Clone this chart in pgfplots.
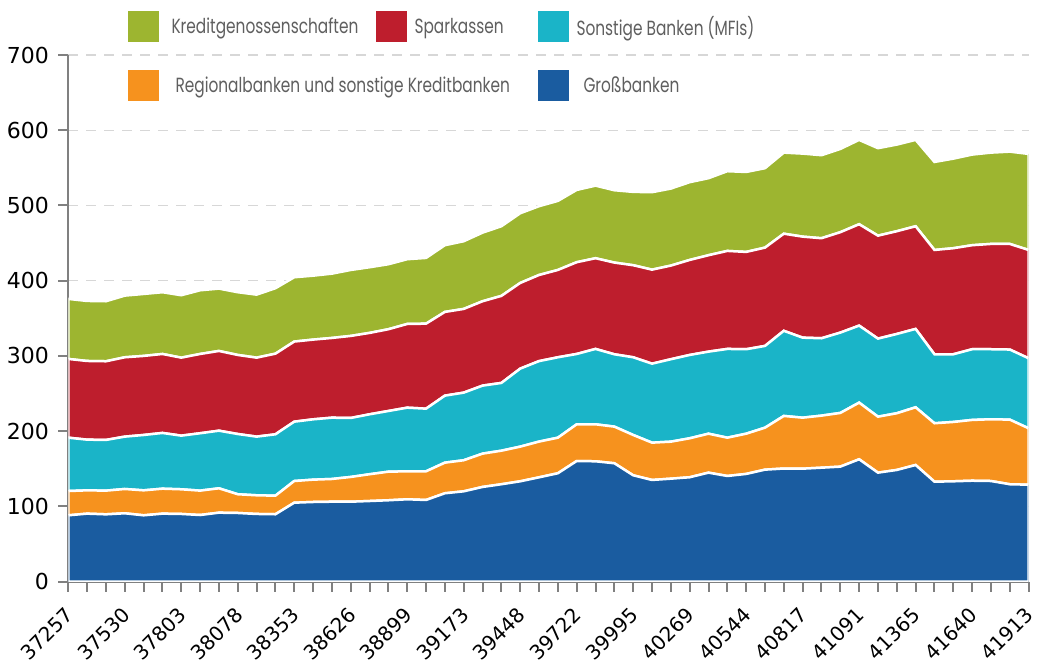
\documentclass[border=0pt]{standalone}
\usepackage{fontspec}
\setmainfont{DejaVu Sans}
\newfontfamily\legfont[FakeStretch=0.75]{Poppins}
\usepackage{pgfplots}
\pgfplotsset{compat=1.18}
\usepackage{pgfplotstable}
\definecolor{cGreen}{RGB}{157,181,48}
\definecolor{cRed}{RGB}{190,30,45}
\definecolor{cCyan}{RGB}{26,180,200}
\definecolor{cOrange}{RGB}{246,146,30}
\definecolor{cBlue}{RGB}{26,92,160}
\definecolor{axgray}{RGB}{128,128,128}
\definecolor{gridgray}{RGB}{215,215,215}
\definecolor{leggray}{RGB}{95,95,95}

\pgfplotstableread{
x gross reg son spk kre
0 88.0 32.3 70.9 104.7 79.8
1 90.2 31.0 67.4 104.6 79.8
2 89.3 31.5 67.4 104.6 79.8
3 90.7 32.3 69.6 105.5 82.0
4 88.0 33.2 73.6 105.1 82.4
5 90.2 33.2 74.1 105.0 82.1
6 89.8 32.8 71.3 103.7 83.0
7 88.4 32.4 76.3 105.4 84.7
8 91.5 32.4 76.6 106.0 82.9
9 91.1 24.9 80.1 105.1 83.4
10 89.8 24.8 78.0 105.0 83.8
11 89.4 24.7 81.6 107.2 87.0
12 104.8 28.8 78.9 106.5 85.5
13 105.7 29.7 80.2 106.0 85.0
14 106.1 30.2 81.5 106.0 85.5
15 106.1 32.9 78.4 109.1 87.7
16 107.0 35.6 79.7 108.2 87.3
17 108.0 38.0 80.7 108.7 86.4
18 109.3 37.2 84.6 111.3 86.1
19 108.4 38.1 83.3 113.0 87.4
20 117.3 40.7 89.1 111.3 88.7
21 119.9 41.3 89.9 111.3 90.0
22 125.7 44.3 90.4 112.2 91.2
23 129.3 44.6 90.1 115.7 92.6
24 133.2 46.1 103.7 113.9 92.7
25 138.5 47.5 107.0 114.5 91.5
26 143.9 47.3 106.9 116.1 91.8
27 160.2 48.8 93.5 122.0 96.1
28 159.8 49.2 100.2 120.6 96.5
29 157.2 48.7 96.2 121.9 96.2
30 141.2 53.6 103.3 122.4 97.5
31 135.0 49.6 105.0 125.0 103.0
32 136.7 49.2 109.6 124.5 102.4
33 138.6 51.8 110.8 126.3 103.4
34 144.7 51.8 109.1 128.2 102.4
35 140.3 50.9 118.0 130.3 106.0
36 143.0 53.5 112.3 129.4 106.3
37 148.7 55.8 108.7 130.7 105.6
38 150.2 69.9 113.2 129.1 107.8
39 150.0 67.8 106.4 134.3 110.4
40 151.3 69.2 102.9 133.0 110.4
41 152.7 71.4 106.8 133.5 110.7
42 162.5 75.3 102.4 134.8 112.1
43 144.7 74.4 103.8 136.9 116.3
44 148.3 75.4 105.4 136.6 115.2
45 154.9 76.7 104.2 136.5 114.8
46 132.7 77.7 91.7 138.7 117.0
47 133.2 78.9 90.0 141.0 119.1
48 134.0 80.8 94.0 138.3 120.5
49 133.6 82.1 93.1 140.0 121.4
50 129.3 85.9 93.2 140.4 122.7
51 128.7 75.0 93.1 144.0 127.7
}\data

\begin{document}
\begin{tikzpicture}
\path[use as bounding box] (-68.3pt,-85.5pt) rectangle (969.7pt,581.5pt);
\begin{axis}[
  at={(0pt,0pt)}, anchor=south west,
  width=960.3pt, height=526.5pt, scale only axis,
  xmin=0, xmax=51, ymin=0, ymax=700,
  axis lines=left,
  axis line style={-, draw=axgray, line width=2pt},
  stack plots=y,
  xtick={0,3,...,51},
  xticklabels={37257,37530,37803,38078,38353,38626,38899,39173,39448,39722,39995,40269,40544,40817,41091,41365,41640,41913},
  minor xtick={0,1,...,51},
  ytick={0,100,...,700},
  tick align=outside,
  major tick length=10pt, minor tick length=10pt,
  tick style={draw=axgray, line width=2pt},
  ymajorgrids,
  grid style={draw=gridgray, line width=1.2pt, dash pattern=on 10pt off 8pt},
  ticklabel style={font=\fontsize{22}{26}\selectfont, text=black},
  /pgf/number format/assume math mode=true,
  yticklabel style={xshift=-6pt},
  xticklabel style={font=\fontsize{20}{24}\selectfont, inner sep=1pt, xshift=2pt, yshift=-19pt, rotate=45, anchor=east},
  legend style={at={(0,1)}, anchor=north west, xshift=59.2pt, yshift=44pt,
    draw=none, fill=none, inner sep=0pt, outer sep=0pt,
    row sep=28pt, column sep=0pt,
    font=\legfont\fontsize{20.5}{24}\selectfont, text=leggray,
    nodes={inner sep=0pt}},
  legend columns=3, legend cell align=left, reverse legend,
  legend image code/.code={\fill[#1, draw=none] (0pt,-15.5pt) rectangle (31pt,15.5pt);},
]
\addplot[fill=cBlue, draw=white, line width=2.5pt] table[x=x, y=gross] {\data} \closedcycle;
\addlegendentry{\hspace*{15pt}Großbanken}
\addlegendimage{empty legend}
\addlegendentry{}
\addplot[fill=cOrange, draw=white, line width=2.5pt] table[x=x, y=reg] {\data} \closedcycle;
\addlegendentry{\hspace*{17pt}\rlap{Regionalbanken und sonstige Kreditbanken}}
\addplot[fill=cCyan, draw=white, line width=2.5pt] table[x=x, y=son] {\data} \closedcycle;
\addlegendentry{\hspace*{8pt}Sonstige Banken (MFIs)}
\addplot[fill=cRed, draw=white, line width=2.5pt] table[x=x, y=spk] {\data} \closedcycle;
\addlegendentry{\hspace*{8pt}\makebox[123pt][l]{Sparkassen}}
\addplot[fill=cGreen, draw=white, line width=2.5pt] table[x=x, y=kre] {\data} \closedcycle;
\addlegendentry{\hspace*{13pt}\makebox[204pt][l]{Kreditgenossenschaften}}
\end{axis}
\end{tikzpicture}
\end{document}
